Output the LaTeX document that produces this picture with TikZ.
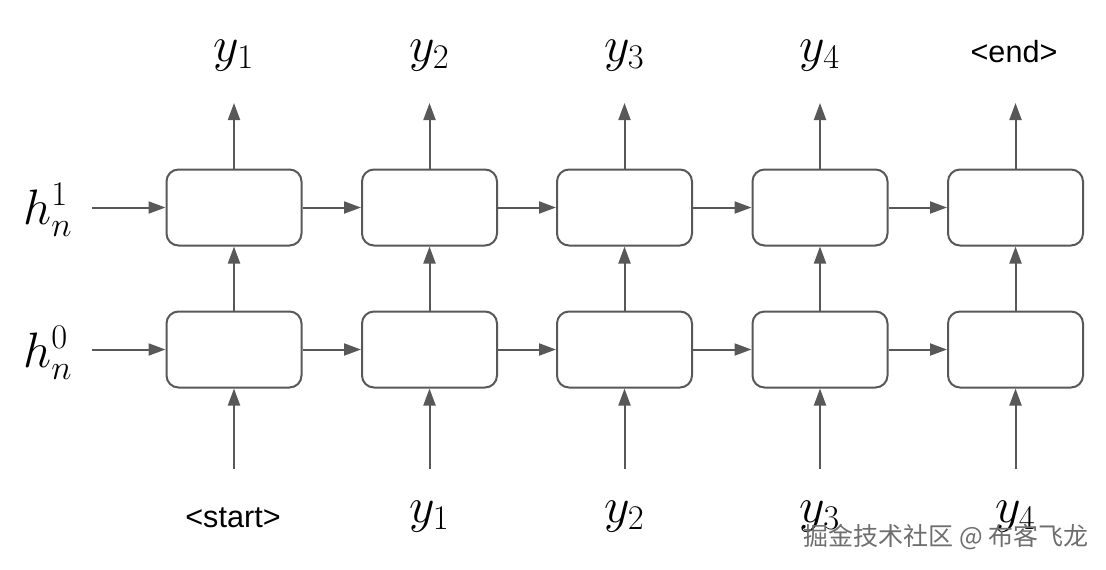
\documentclass[tikz,border=0pt]{standalone}
\usepackage{fontspec}
\setsansfont{Liberation Sans}
\newfontfamily\cjkfont{Noto Sans CJK SC}
\usetikzlibrary{arrows.meta}
\definecolor{linegray}{RGB}{88,88,88}
\definecolor{markgray}{RGB}{110,110,110}

\begin{document}
\begin{tikzpicture}[x=0.5pt, y=-0.5pt,
  cell/.style={draw=linegray, line width=1pt, rounded corners=6pt,
    minimum width=67.5pt, minimum height=38pt, inner sep=0pt},
  flow/.style={draw=linegray, line width=1pt, -{Triangle[length=8.5pt,width=6pt]}},
  lbl/.style={font=\fontsize{23}{28}\selectfont, inner sep=0pt},
  tok/.style={font=\sffamily\fontsize{15.3}{18}\selectfont, inner sep=0pt}]
\useasboundingbox (0,0) rectangle (1106,569);

% two layers of cells, five time steps
\foreach \i/\x in {1/234,2/429.5,3/624.5,4/820,5/1015.5} {
  \node[cell] (top\i) at (\x,207.5) {};
  \node[cell] (bot\i) at (\x,349.5) {};
  \coordinate (out\i) at (\x,103);
  \coordinate (in\i) at (\x,469);
  \draw[flow] (bot\i) -- (top\i);
  \draw[flow] (top\i) -- (out\i);
  \draw[flow] (in\i) -- (bot\i);
}
\foreach \j [remember=\j as \i (initially 1)] in {2,...,5} {
  \draw[flow] (top\i) -- (top\j);
  \draw[flow] (bot\i) -- (bot\j);
}

% initial states
\node[lbl] (h1) at (48,210) {$h_n^1$};
\node[lbl] (h0) at (48,353) {$h_n^0$};
\coordinate (hin1) at (92,207.5);
\coordinate (hin0) at (92,349.5);
\draw[flow] (hin1) -- (top1);
\draw[flow] (hin0) -- (bot1);

% outputs
\node[lbl, anchor=base] (o1) at (234,61) {$y_1$};
\node[lbl, anchor=base] (o2) at (429.5,61) {$y_2$};
\node[lbl, anchor=base] (o3) at (624.5,61) {$y_3$};
\node[lbl, anchor=base] (o4) at (820,61) {$y_4$};
\node[tok, anchor=base] (o5) at (1014,62) {<end>};

% inputs
\node[tok, anchor=base] (x1) at (233,527) {<start>};
\node[lbl, anchor=base] (x2) at (429.5,522) {$y_1$};
\node[lbl, anchor=base] (x3) at (624.5,522) {$y_2$};
\node[lbl, anchor=base] (x4) at (820,522) {$y_3$};
\node[lbl, anchor=base] (x5) at (1015.5,522) {$y_4$};

\node[font=\cjkfont\fontsize{12.5}{15}\selectfont, text=markgray, anchor=west, inner sep=0pt]
  (mark) at (803,537) {掘金技术社区 @ 布客飞龙};
\end{tikzpicture}
\end{document}
